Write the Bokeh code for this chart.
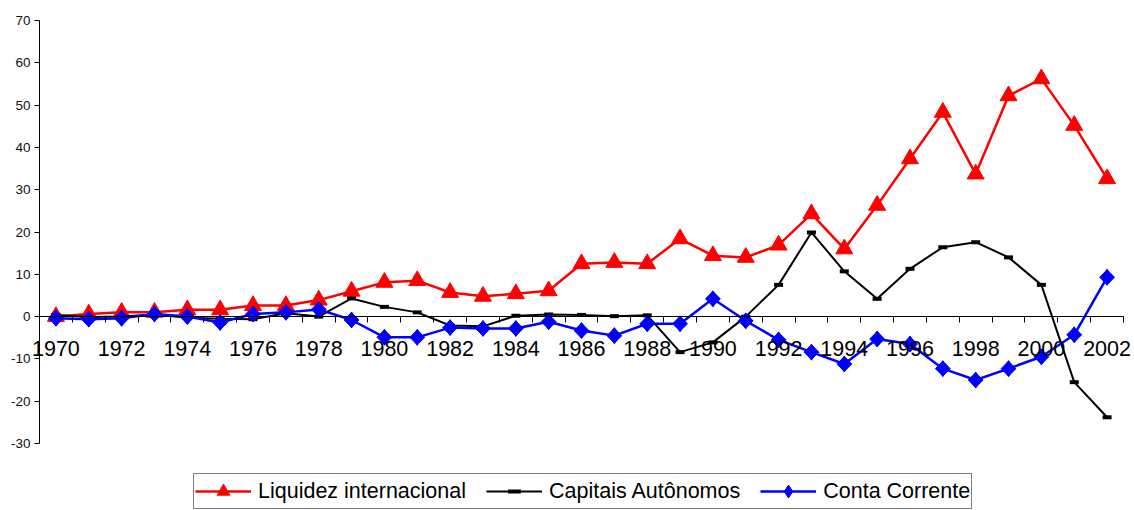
import math
from bokeh.plotting import figure
from bokeh.models import Range1d, LinearAxis, FixedTicker, Legend, LegendItem
from bokeh.embed import file_html
from bokeh.resources import INLINE

years = list(range(1970, 2003))
liquidez = [0.0, 0.6, 1.0, 1.0, 1.6, 1.6, 2.6, 2.6, 3.9, 6.0, 8.1, 8.5, 5.7, 4.8, 5.4, 6.1,
            12.5, 12.8, 12.5, 18.4, 14.4, 14.0, 16.9, 24.3, 16.0, 26.3, 37.3, 48.3, 33.7,
            52.2, 56.2, 45.2, 32.6]
capitais = [0.4, -0.1, 0.0, 0.5, -0.3, -0.5, -0.6, 0.8, 0.0, 4.3, 2.3, 1.0, -2.1, -2.3, 0.2,
            0.5, 0.4, 0.1, 0.3, -8.4, -6.1, 0.0, 7.5, 19.9, 10.7, 4.2, 11.3, 16.4, 17.6,
            14.0, 7.5, -15.5, -23.8]
conta = [-0.4, -0.6, -0.4, 0.6, 0.0, -1.4, 0.6, 1.0, 1.7, -0.8, -4.9, -4.9, -2.6, -2.8, -2.8,
         -1.2, -3.3, -4.5, -1.7, -1.7, 4.2, -1.0, -5.5, -8.4, -11.2, -5.3, -6.5, -12.3,
         -15.0, -12.3, -9.5, -4.3, 9.3]
y_ticks = [-30, -20, -10, 0, 10, 20, 30, 40, 50, 60, 70]
x_labels = years[::2]
series_names = ["Liquidez internacional", "Capitais Autônomos", "Conta Corrente"]

FONT = "Liberation Sans"

# layout: plot area (axes box) in screen pixels inside a full-size frame
W, H = 1134, 510
PL, PR, PT, PB = 39, 1123, 20, 443
x0, x1 = years[0] - 0.5, years[-1] + 0.5
y0, y1 = y_ticks[0], y_ticks[-1]
ppx = (PR - PL) / (x1 - x0)
ppy = (PB - PT) / (y1 - y0)
xr = Range1d(x0 - PL / ppx, x1 + (W - PR) / ppx)
yr = Range1d(y0 - (H - PB) / ppy, y1 + PT / ppy)

p = figure(width=W, height=H, output_backend="svg", toolbar_location=None,
           x_range=xr, y_range=yr, x_axis_location=None, y_axis_location=None,
           min_border_left=0, min_border_right=0, min_border_top=0, min_border_bottom=0)
p.outline_line_color = None
p.xgrid.visible = False
p.ygrid.visible = False
p.background_fill_color = "white"
p.border_fill_color = "white"

# y axis
yax = LinearAxis(ticker=FixedTicker(ticks=y_ticks), fixed_location=x0, bounds=(y0, y1))
yax.axis_line_color = "black"
yax.major_tick_line_color = "black"
yax.major_tick_out = 5
yax.major_tick_in = 0
yax.minor_tick_line_color = None
yax.major_label_overrides = {t: str(t) for t in y_ticks}
yax.major_label_text_font = FONT
yax.major_label_text_font_size = "13.5px"
yax.major_label_text_color = "#111111"
yax.major_label_standoff = 4
p.add_layout(yax, "left")

# x axis line + boundary ticks at y=0
bounds = [y - 0.5 for y in years] + [years[-1] + 0.5]
xax = LinearAxis(ticker=FixedTicker(ticks=bounds), fixed_location=0, bounds=(x0, x1))
xax.axis_line_color = "black"
xax.major_tick_line_color = "black"
xax.major_tick_out = 6
xax.major_tick_in = 0
xax.minor_tick_line_color = None
xax.major_label_text_font_size = "1px"
xax.major_label_text_alpha = 0
p.add_layout(xax, "below")

# x labels
xlab = LinearAxis(ticker=FixedTicker(ticks=x_labels), fixed_location=0, bounds=(x0, x1))
xlab.axis_line_color = None
xlab.major_tick_line_color = None
xlab.major_tick_out = 0
xlab.minor_tick_line_color = None
xlab.major_label_overrides = {t: str(t) for t in x_labels}
xlab.major_label_text_font = FONT
xlab.major_label_text_font_size = "21.5px"
xlab.major_label_text_color = "black"
xlab.major_label_standoff = 24
p.add_layout(xlab, "below")

l1 = p.line(years, liquidez, line_color="#ff0000", line_width=2.5)
m1 = p.scatter(years, liquidez, marker="triangle", size=17, fill_color="#ff0000", line_color="#ff0000")
l2 = p.line(years, capitais, line_color="black", line_width=2)
m2 = p.scatter(years, capitais, marker="dash", size=9, line_color="black", line_width=4)
l3 = p.line(years, conta, line_color="#0000ff", line_width=2.5)
m3a = p.scatter(years, conta, marker="square", angle=math.pi / 4, size=10.5,
                fill_color="#0000ff", line_color="#0000ff")
m3 = p.scatter(years, conta, marker="diamond", size=16, fill_color="#0000ff", line_color="#0000ff")

legend = Legend(items=[LegendItem(label=series_names[0], renderers=[l1, m1]),
                       LegendItem(label=series_names[1], renderers=[l2, m2]),
                       LegendItem(label=series_names[2], renderers=[l3, m3])],
                orientation="horizontal", location=(193, 1))
legend.label_text_font = FONT
legend.label_text_font_size = "21.5px"
legend.label_text_color = "black"
legend.glyph_width = 56
legend.glyph_height = 32
legend.label_height = 25
legend.label_standoff = 7
legend.spacing = 20
legend.padding = 1
legend.margin = 0
legend.border_line_color = "black"
legend.border_line_width = 1
legend.background_fill_color = "white"
legend.background_fill_alpha = 1
p.add_layout(legend)

open("out.html", "w").write(file_html(p, INLINE))
